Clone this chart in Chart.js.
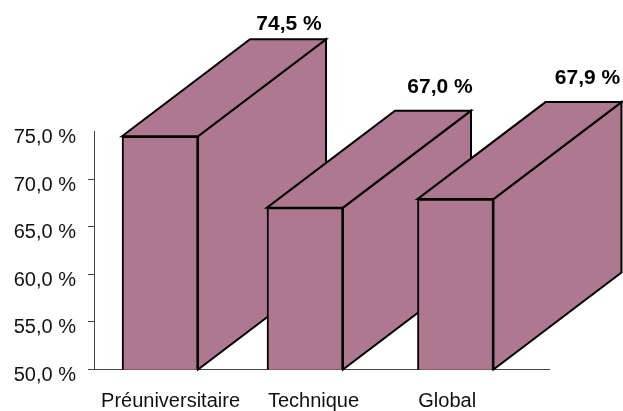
<!DOCTYPE html>
<html><head><meta charset="utf-8">
<style>html,body{margin:0;padding:0;background:#fff}canvas{display:block}</style>
<script src="https://cdn.jsdelivr.net/npm/chart.js@4"></script>
</head><body><canvas id="c" width="623" height="411"></canvas>
<script>
const categories = ["Préuniversitaire", "Technique", "Global"];
const values = [74.5, 67.0, 67.9];
const valueLabels = ["74,5 %", "67,0 %", "67,9 %"];
const yMin = 50, yMax = 75, yStep = 5;

const depthX = 128, depthY = 97;
const barShift = [-9.8, -16.5, -17.7];
const labelShift = [0.7, -8, -26];
const valueLabelShift = [[-37,-15],[-31,-23],[-34,-24]];
const FILL = "#AE7890";

const fmt = v => v.toFixed(1).replace(".", ",") + " %";

const depth3d = {
  id: "depth3d",
  beforeDatasetsDraw(chart) {
    const ctx = chart.ctx, y = chart.scales.y, base = y.getPixelForValue(yMin);
    ctx.save();
    ctx.lineWidth = 2; ctx.strokeStyle = "#000"; ctx.fillStyle = FILL; ctx.lineJoin = "miter";
    chart.getDatasetMeta(0).data.forEach(bar => {
      const l = bar.x - bar.width / 2, r = bar.x + bar.width / 2, t = bar.y;
      ctx.beginPath();
      ctx.moveTo(r, t); ctx.lineTo(r + depthX, t - depthY); ctx.lineTo(r + depthX, base - depthY); ctx.lineTo(r, base); ctx.closePath();
      ctx.fill(); ctx.stroke();
      ctx.beginPath();
      ctx.moveTo(l, t); ctx.lineTo(l + depthX, t - depthY); ctx.lineTo(r + depthX, t - depthY); ctx.lineTo(r, t); ctx.closePath();
      ctx.fill(); ctx.stroke();
    });
    ctx.restore();
  },
  afterDatasetsDraw(chart) {
    const ctx = chart.ctx;
    ctx.save();
    ctx.fillStyle = "#000"; ctx.font = "bold 21px 'Liberation Sans'";
    ctx.textAlign = "center"; ctx.textBaseline = "middle";
    chart.getDatasetMeta(0).data.forEach((bar, i) => {
      const s = valueLabelShift[i];
      ctx.fillText(valueLabels[i], bar.x + bar.width / 2 + depthX + s[0], bar.y - depthY + s[1]);
    });
    ctx.restore();
  }
};

new Chart(document.getElementById("c"), {
  type: "bar",
  data: { labels: categories, datasets: [{ data: values, backgroundColor: FILL, borderColor: "#000", borderWidth: 2, barThickness: 76 }] },
  plugins: [depth3d],
  options: {
    responsive: false, animation: false, devicePixelRatio: 1,
    layout: { padding: { top: 131.5, right: 74, left: 0, bottom: 0 } },
    plugins: { legend: { display: false }, tooltip: { enabled: false } },
    scales: {
      y: {
        min: yMin, max: yMax,
        border: { color: "#444", width: 1 },
        grid: { drawOnChartArea: false, tickLength: 6, color: "#444", tickColor: c => c.tick && c.tick.value === yMax ? "transparent" : "#444" },
        ticks: { stepSize: yStep, callback: fmt, color: "#111", padding: 12, font: { family: "Liberation Sans", size: 20 } },
        afterFit(s) {
          s.width = 94;
          const orig = s._computeLabelItems;
          s._computeLabelItems = function (a) { return orig.call(this, a).map(i => ({ ...i, textOffset: i.textOffset + 3 })); };
        }
      },
      x: {
        border: { color: "#444", width: 1 },
        grid: { display: false },
        ticks: { color: "#111", padding: 12, maxRotation: 0, autoSkip: false, font: { family: "Liberation Sans", size: 20 } },
        afterFit(s) {
          s.height = 41.5;
          const basePx = s.getPixelForValue, baseTick = s.getPixelForTick;
          s.getPixelForValue = function (v, i) { return basePx.call(this, v, i) + (barShift[v] || 0); };
          s.getPixelForTick = function (i) { return baseTick.call(this, i) - (barShift[i] || 0) + labelShift[i]; };
        }
      }
    }
  }
});
</script></body></html>
